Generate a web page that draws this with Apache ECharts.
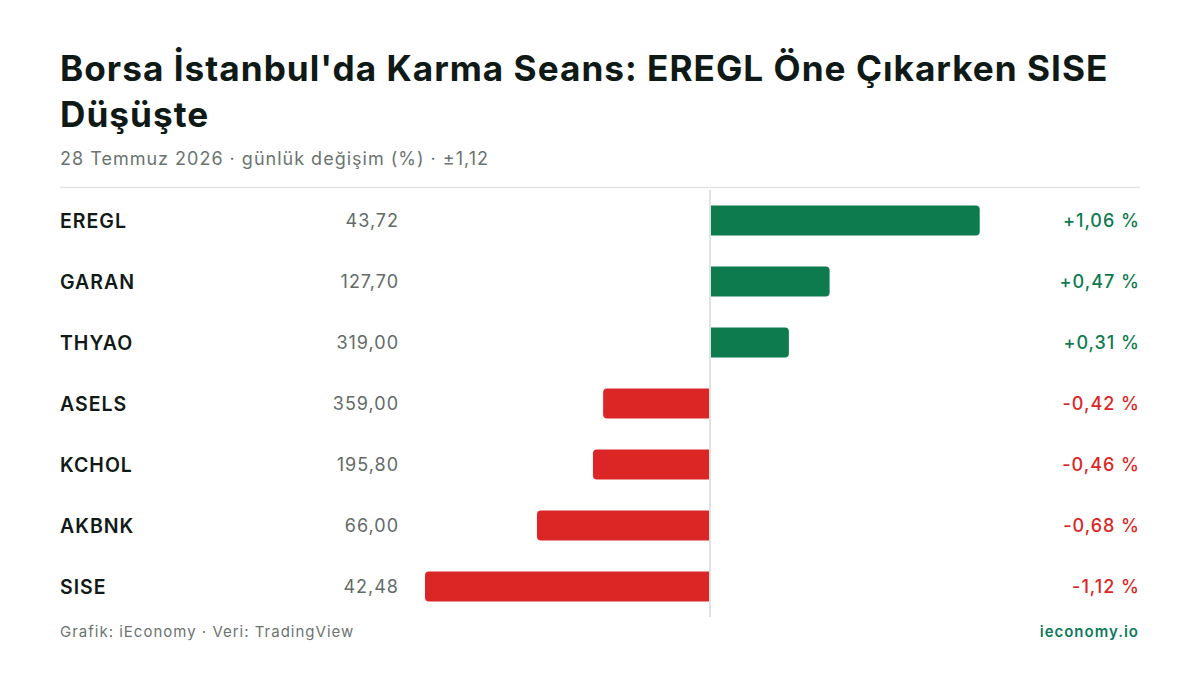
<!DOCTYPE html>
<html><head><meta charset="utf-8">
<script src="https://cdn.jsdelivr.net/npm/echarts@6/dist/echarts.min.js"></script>
<style>html,body{margin:0;padding:0;background:#fff}#c{width:1200px;height:675px}#c svg text{letter-spacing:1px}</style>
</head><body><div id="c"></div>
<script>
const tickers = ['EREGL','GARAN','THYAO','ASELS','KCHOL','AKBNK','SISE'];
const prices = ['43,72','127,70','319,00','359,00','195,80','66,00','42,48'];
const changes = [1.06, 0.47, 0.31, -0.42, -0.46, -0.68, -1.12];
const axisLimit = 1.12;

const GREEN = '#0e7b4f', RED = '#dc2626';
const FONT = 'Inter, "Noto Sans", sans-serif';
const fmtPct = v => (v > 0 ? '+' : '') + v.toFixed(2).replace('.', ',') + ' %';

const chart = echarts.init(document.getElementById('c'), null, {renderer: 'svg'});
chart.setOption({
  backgroundColor: '#ffffff',
  animation: false,
  textStyle: {fontFamily: FONT},
  title: [
    {text: "Borsa İstanbul'da Karma Seans: EREGL Öne Çıkarken SISE\nDüşüşte", left: 60, top: 45, padding: 0,
     textStyle: {fontFamily: FONT, fontSize: 35.2, fontWeight: 'bold', color: '#0f1a17', lineHeight: 46}},
    {text: '28 Temmuz 2026 · günlük değişim (%) · ±1,12', left: 60, top: 147, padding: 0,
     textStyle: {fontFamily: FONT, fontSize: 18, fontWeight: 'normal', color: '#6b7471', lineHeight: 22}},
    {text: 'Grafik: iEconomy · Veri: TradingView', left: 60, top: 622, padding: 0,
     textStyle: {fontFamily: FONT, fontSize: 15, fontWeight: 'normal', color: '#6b7471', lineHeight: 18}},
    {text: 'ieconomy.io', right: 72, top: 622, padding: 0,
     textStyle: {fontFamily: FONT, fontSize: 15, fontWeight: 600, color: '#0f7a5c', lineHeight: 18}}
  ],
  graphic: [
    {type: 'line', shape: {x1: 60, y1: 187.5, x2: 1140, y2: 187.5}, style: {stroke: '#e1e5e4', lineWidth: 1.5}}
  ],
  grid: {left: 425, right: 205, top: 190, height: 427, containLabel: false},
  xAxis: {type: 'value', min: -axisLimit, max: axisLimit, show: false},
  yAxis: [
    {type: 'category', data: tickers, inverse: true, position: 'left',
     axisLine: {show: false}, axisTick: {show: false},
     axisLabel: {align: 'left', margin: 365, fontSize: 19.5, fontWeight: 600, color: '#111a17', fontFamily: FONT}},
    {type: 'category', data: tickers, inverse: true, position: 'left', offset: 0,
     axisLine: {show: false}, axisTick: {show: false},
     axisLabel: {align: 'right', margin: 26, fontSize: 18, color: '#636b68', fontFamily: FONT,
       formatter: (v, i) => prices[i]}},
    {type: 'category', data: tickers, inverse: true, position: 'right',
     axisLine: {show: false}, axisTick: {show: false},
     axisLabel: {align: 'right', margin: 145, fontSize: 18, fontWeight: 500, fontFamily: FONT,
       formatter: (v, i) => fmtPct(changes[i]),
       color: (v, i) => changes[tickers.indexOf(v)] >= 0 ? GREEN : RED}}
  ],
  series: [
    {type: 'bar', yAxisIndex: 0, barWidth: 30,
     data: changes.map(v => ({value: v, itemStyle: {color: v >= 0 ? GREEN : RED,
       borderRadius: v >= 0 ? [0, 4, 4, 0] : [4, 0, 0, 4]}})),
     markLine: {silent: true, symbol: 'none', label: {show: false},
       lineStyle: {color: '#dfe3e2', width: 2, type: 'solid'},
       data: [{xAxis: 0}]}}
  ]
});
</script></body></html>
